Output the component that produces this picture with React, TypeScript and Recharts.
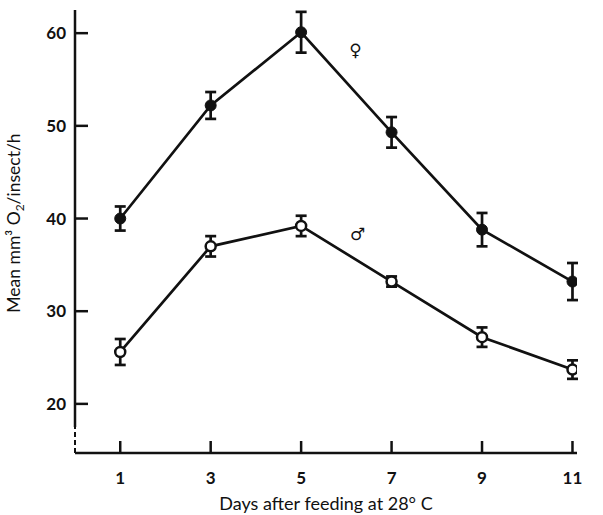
import {
  ErrorBar,
  Line,
  LineChart,
  ReferenceDot,
  ReferenceLine,
  XAxis,
  YAxis,
} from "recharts";

const days = [1, 3, 5, 7, 9, 11];
const female = [40.0, 52.2, 60.1, 49.3, 38.8, 33.2];
const femaleErr = [1.3, 1.45, 2.2, 1.65, 1.8, 2.0];
const male = [25.6, 37.0, 39.2, 33.2, 27.2, 23.7];
const maleErr = [1.4, 1.1, 1.1, 0.55, 1.05, 1.0];

const xTicks = [1, 3, 5, 7, 9, 11];
const yTicks = [20, 30, 40, 50, 60];

// sex symbols placed next to the curves
const symbolLabels = ["♀", "♂"];
const symbolX = [6.2, 6.25];
const symbolY = [58.2, 38.3];

const data = days.map((d, i) => ({
  day: d,
  female: female[i],
  femaleErr: femaleErr[i],
  male: male[i],
  maleErr: maleErr[i],
}));

const FONT = "Lato, 'Open Sans', sans-serif";
const INK = "#111";

const YTick = (props: any) => {
  const { x, y, payload } = props;
  return (
    <g>
      <line x1={x} y1={y} x2={x + 13} y2={y} stroke={INK} strokeWidth={2.5} />
      <text
        x={x - 9}
        y={y}
        dy={6}
        textAnchor="end"
        fontFamily={FONT}
        fontWeight={700}
        fontSize={17}
        fill={INK}
      >
        {payload.value}
      </text>
    </g>
  );
};

const XTick = (props: any) => {
  const { x, y, payload } = props;
  return (
    <g>
      <line x1={x} y1={y} x2={x} y2={y - 12} stroke={INK} strokeWidth={2.5} />
      <text
        x={x}
        y={y + 31}
        textAnchor="middle"
        fontFamily={FONT}
        fontWeight={700}
        fontSize={17}
        fill={INK}
      >
        {payload.value}
      </text>
    </g>
  );
};

const YTitle = (props: any) => {
  const { viewBox } = props;
  const cx = 20;
  const cy = viewBox.y + 213;
  return (
    <text
      x={cx}
      y={cy}
      transform={`rotate(-90 ${cx} ${cy})`}
      textAnchor="middle"
      fontFamily={FONT}
      fontSize={17.5}
      fill={INK}
    >
      <tspan>Mean mm³ O</tspan>
      <tspan dy={4} fontSize={12}>2</tspan>
      <tspan dy={-4}>/insect/h</tspan>
    </text>
  );
};

const FilledDot = (props: any) => {
  const { cx, cy } = props;
  return <circle cx={cx} cy={cy} r={5.5} fill={INK} stroke={INK} strokeWidth={1} />;
};

const OpenDot = (props: any) => {
  const { cx, cy } = props;
  return <circle cx={cx} cy={cy} r={5} fill="#fff" stroke={INK} strokeWidth={2.5} />;
};

export default function App() {
  return (
    <div style={{ position: "absolute", left: 0, top: 0, background: "#fff" }}>
      <LineChart
        width={603}
        height={515}
        data={data}
        margin={{ top: 10, right: 26, bottom: 0, left: 0 }}
      >
        <XAxis
          type="number"
          dataKey="day"
          domain={[0, 11.1]}
          ticks={xTicks}
          allowDataOverflow
          height={62}
          tickSize={0}
          tickMargin={0}
          tickLine={false}
          axisLine={{ stroke: INK, strokeWidth: 2.5 }}
          tick={<XTick />}
          label={{
            value: "Days after feeding at 28° C",
            position: "insideBottom",
            offset: 5,
            fontFamily: FONT,
            fontSize: 18,
            fill: INK,
          }}
        />
        <YAxis
          type="number"
          domain={[14.7, 62.5]}
          ticks={yTicks}
          allowDataOverflow
          width={75}
          tickSize={0}
          tickMargin={0}
          tickLine={false}
          axisLine={false}
          tick={<YTick />}
          label={<YTitle />}
        />
        <ReferenceLine
          segment={[
            { x: 0, y: 17.5 },
            { x: 0, y: 62.5 },
          ]}
          stroke={INK}
          strokeWidth={2.5}
          ifOverflow="visible"
        />
        <ReferenceLine
          segment={[
            { x: 0, y: 14.7 },
            { x: 0, y: 17.5 },
          ]}
          stroke={INK}
          strokeWidth={2}
          strokeDasharray="5 3"
          ifOverflow="visible"
        />
        <Line
          dataKey="female"
          type="linear"
          stroke={INK}
          strokeWidth={2.7}
          dot={<FilledDot />}
          activeDot={false}
          isAnimationActive={false}
        >
          <ErrorBar
            dataKey="femaleErr"
            direction="y"
            width={5.5}
            stroke={INK}
            strokeWidth={2.7}
            isAnimationActive={false}
          />
        </Line>
        <Line
          dataKey="male"
          type="linear"
          stroke={INK}
          strokeWidth={2.7}
          dot={<OpenDot />}
          activeDot={false}
          isAnimationActive={false}
        >
          <ErrorBar
            dataKey="maleErr"
            direction="y"
            width={5.5}
            stroke={INK}
            strokeWidth={2.7}
            isAnimationActive={false}
          />
        </Line>
        {symbolLabels.map((s, i) => (
          <ReferenceDot
            key={s}
            x={symbolX[i]}
            y={symbolY[i]}
            r={0}
            stroke="none"
            ifOverflow="visible"
            label={{
              value: s,
              position: "center",
              fontFamily: "'DejaVu Sans', sans-serif",
              fontSize: 17,
              fill: INK,
            }}
          />
        ))}
      </LineChart>
    </div>
  );
}
